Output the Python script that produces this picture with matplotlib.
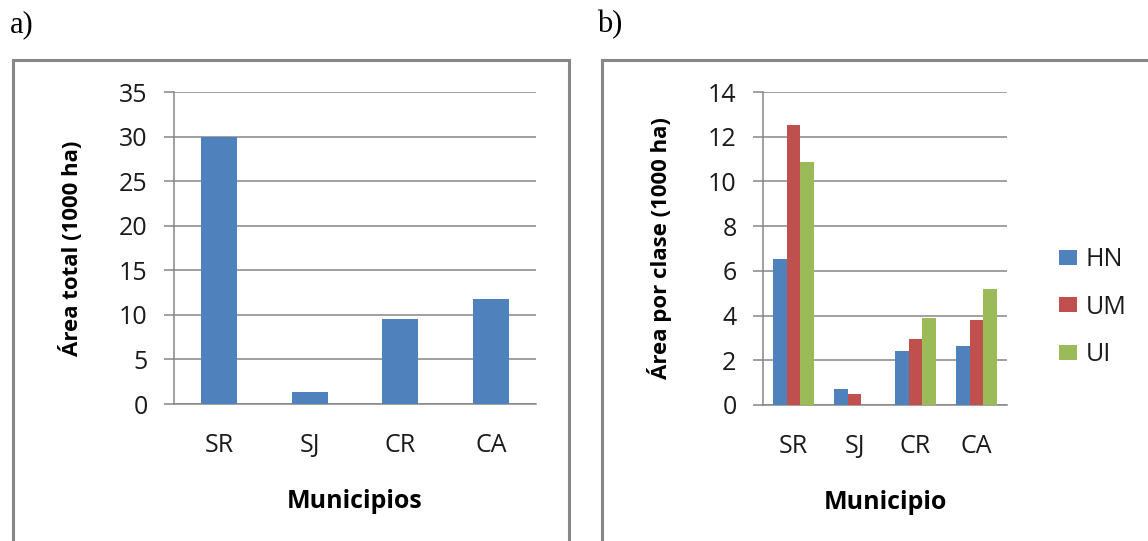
import matplotlib.pyplot as plt
import numpy as np
from matplotlib.patches import Rectangle

municipios = ["SR", "SJ", "CR", "CA"]
area_total = [30.0, 1.34, 9.5, 11.8]

clases = ["HN", "UM", "UI"]
hn = [6.53, 0.71, 2.43, 2.65]
um = [12.54, 0.48, 2.93, 3.79]
ui = [10.89, 0.0, 3.91, 5.18]

color_blue = "#4F81BD"
color_red = "#C0504D"
color_green = "#9BBB59"
grid_color = "#868686"

plt.rcParams["font.family"] = ["Open Sans", "DejaVu Sans"]

W, H = 1148, 541
fig = plt.figure(figsize=(W / 100, H / 100), dpi=100)


def px_axes(x0, y0, x1, y1):
    # pixel box (top-left origin) -> figure fraction
    return fig.add_axes([x0 / W, 1 - y1 / H, (x1 - x0) / W, (y1 - y0) / H])


def style_axes(ax, ymax, ystep):
    ax.set_ylim(0, ymax)
    ax.set_yticks(np.arange(0, ymax + ystep / 2, ystep))
    ax.set_xlim(-0.5, len(municipios) - 0.5)
    ax.set_xticks(np.arange(len(municipios)))
    ax.set_xticklabels(municipios)
    ax.yaxis.grid(True, color=grid_color, linewidth=1.1)
    ax.set_axisbelow(True)
    for side in ["top", "right"]:
        ax.spines[side].set_visible(False)
    for side in ["left", "bottom"]:
        ax.spines[side].set_color(grid_color)
        ax.spines[side].set_linewidth(1.1)
    ax.tick_params(axis="y", length=7, width=1.1, color=grid_color, pad=12,
                   labelsize=18, labelcolor="#1a1a1a")
    ax.tick_params(axis="x", length=0, pad=21, labelsize=18, labelcolor="#1a1a1a")


# a) area total por municipio
ax1 = px_axes(174, 92, 536, 404)
x = np.arange(len(municipios))
ax1.bar(x, area_total, width=0.4, color=color_blue, zorder=3)
style_axes(ax1, 35, 5)
ax1.set_xlabel("Municipios", fontsize=18, fontweight="bold")
ax1.set_ylabel("Área total (1000 ha)", fontsize=16, fontweight="bold")
ax1.xaxis.set_label_coords(0.5, -0.314)
ax1.xaxis.label.set_va("center")
ax1.yaxis.set_label_coords(-0.285, 0.5)
ax1.yaxis.label.set_va("center")

# b) area por clase
ax2 = px_axes(763, 92, 1007, 405)
bw = 0.222
for i, (vals, col, lab) in enumerate(zip([hn, um, ui], [color_blue, color_red, color_green], clases)):
    ax2.bar(x + (i - 1) * bw, vals, width=bw, color=col, label=lab, zorder=3)
style_axes(ax2, 14, 2)
ax2.set_xlabel("Municipio", fontsize=18, fontweight="bold")
ax2.set_ylabel("Área por clase (1000 ha)", fontsize=16, fontweight="bold")
ax2.xaxis.set_label_coords(0.5, -0.31)
ax2.xaxis.label.set_va("center")
ax2.yaxis.set_label_coords(-0.426, 0.5)
ax2.yaxis.label.set_va("center")
ax2.legend(loc="center left", bbox_to_anchor=(1049 / W, 1 - 307 / H),
           bbox_transform=fig.transFigure, frameon=False, fontsize=18,
           handlelength=0.7, handleheight=0.55, handletextpad=0.35,
           labelspacing=0.9, borderaxespad=0, labelcolor="#1a1a1a")

# chart frames
for x0, x1 in [(13, 569), (602, 1160)]:
    fig.add_artist(Rectangle((x0 / W, -0.1), (x1 - x0) / W, 1 - 60 / H + 0.1,
                             transform=fig.transFigure, fill=False,
                             edgecolor="#878787", linewidth=2.2, clip_on=False))

fig.text(10 / W, 1 - 25 / H, "a)", fontsize=22, family="Liberation Serif", va="center")
fig.text(597 / W, 1 - 25 / H, "b)", fontsize=22, family="Liberation Serif", va="center")

fig.savefig("out.png", dpi=100)
